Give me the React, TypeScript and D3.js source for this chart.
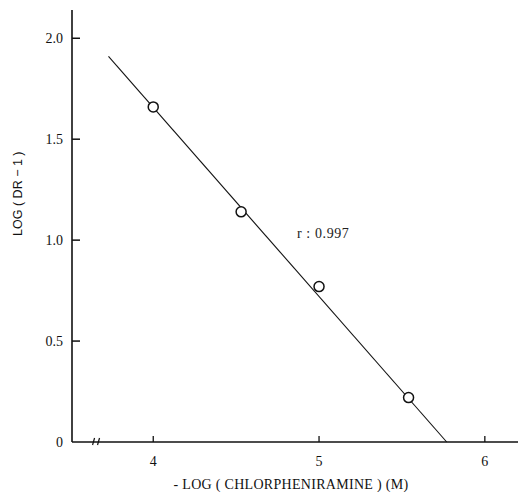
import React from 'react';
import * as d3 from 'd3';

// measured points: -log[chlorpheniramine] vs log(DR-1)
const concValues = [4.0, 4.53, 5.0, 5.54];
const logDrValues = [1.66, 1.14, 0.77, 0.22];

// regression line end points
const fitX = [3.73, 5.77];
const fitY = [1.91, 0];

const xTicks = [4, 5, 6];
const yTicks = [0, 0.5, 1.0, 1.5, 2.0];
const yTickLabels = ['0', '0.5', '1.0', '1.5', '2.0'];
const breakAt = [3.64, 3.67];

const width = 518;
const height = 492;
const margin = { top: 10, right: 0, bottom: 50, left: 72 };

const App = () => {
    const xScale = d3.scaleLinear()
        .domain([3.51, 6.2])
        .range([margin.left, width - margin.right]);

    const yScale = d3.scaleLinear()
        .domain([0, 2.14])
        .range([height - margin.bottom, margin.top]);

    const x0 = margin.left;
    const y0 = yScale(0);

    const line = d3.line<number>()
        .x((d, i) => xScale(fitX[i]))
        .y(d => yScale(d));

    const serif = '"Liberation Serif", "Times New Roman", serif';

    return (
        <svg width={width} height={height}
            style={{ position: 'absolute', left: 0, top: 0, background: '#fff' }}>
            {/* axes */}
            <line x1={x0} y1={yScale.range()[1]} x2={x0} y2={y0} stroke="#111" strokeWidth={1.6} />
            <line x1={x0} y1={y0} x2={xScale.range()[1]} y2={y0} stroke="#111" strokeWidth={1.6} />

            {/* axis break */}
            {breakAt.map(b => (
                <line key={b} x1={xScale(b) - 1} y1={y0 + 3} x2={xScale(b) + 1} y2={y0 - 4}
                    stroke="#111" strokeWidth={1.2} />
            ))}

            {/* y ticks */}
            {yTicks.map((t, i) => (
                <g key={t} transform={`translate(${x0},${yScale(t)})`}>
                    {t > 0 && <line x1={0} x2={8} stroke="#111" strokeWidth={1.5} />}
                    <text x={-9} dy="0.35em" textAnchor="end" fontFamily={serif} fontSize={14} fill="#111">
                        {yTickLabels[i]}
                    </text>
                </g>
            ))}

            {/* x ticks */}
            {xTicks.map(t => (
                <g key={t} transform={`translate(${xScale(t)},${y0})`}>
                    <line y1={0} y2={-6} stroke="#111" strokeWidth={1.3} />
                    <text y={24} textAnchor="middle" fontFamily={serif} fontSize={14} fill="#111">{t}</text>
                </g>
            ))}

            {/* fitted line */}
            <path d={line(fitY) || ''} fill="none" stroke="#111" strokeWidth={1.1} />

            {/* data points */}
            {concValues.map((c, i) => (
                <circle key={c} cx={xScale(c)} cy={yScale(logDrValues[i])} r={5}
                    fill="#fff" stroke="#111" strokeWidth={1.5} />
            ))}

            <text x={297} y={238} fontFamily={serif} fontSize={14} letterSpacing={0.6} fill="#222">r : 0.997</text>

            {/* axis labels */}
            <text transform={`translate(22,${yScale(1.23)}) rotate(-90)`} textAnchor="middle"
                fontFamily='"Liberation Sans", Arial, sans-serif' fontSize={12.5} fill="#111">
                LOG ( DR − 1 )
            </text>
            <text x={291} y={489} textAnchor="middle" fontFamily={serif} fontSize={14} letterSpacing={0.3} fill="#111">
                - LOG ( CHLORPHENIRAMINE ) (M)
            </text>
        </svg>
    );
};

export default App;
